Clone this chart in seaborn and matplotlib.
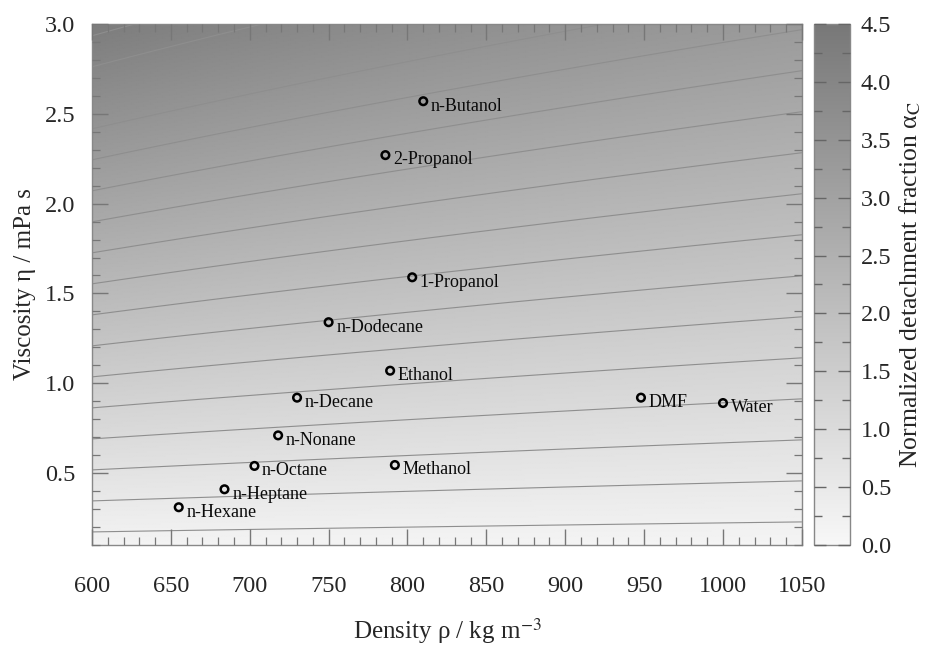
import matplotlib
matplotlib.use("Agg")
import matplotlib.pyplot as plt
import numpy as np
import pandas as pd
import seaborn as sns
from matplotlib.colors import LinearSegmentedColormap
from matplotlib.ticker import MultipleLocator

# solvents: density (kg m-3) and viscosity (mPa s)
solvents = ["n-Butanol", "2-Propanol", "1-Propanol", "n-Dodecane", "Ethanol",
            "n-Decane", "n-Nonane", "n-Octane", "n-Heptane", "n-Hexane",
            "Methanol", "DMF", "Water"]
density = [810, 786, 803, 750, 789, 730, 718, 703, 684, 655, 792, 948, 1000]
viscosity = [2.57, 2.27, 1.59, 1.34, 1.07, 0.92, 0.71, 0.54, 0.41, 0.31, 0.545, 0.92, 0.89]

# reference (water) used to normalise the detachment fraction surface
rho_ref = 997.0
eta_ref = 0.89
levels = np.arange(0.25, 4.5, 0.25)

df = pd.DataFrame({"solvent": solvents, "density": density, "viscosity": viscosity})

sns.set_theme(style="ticks")
plt.rcParams["font.family"] = ["Liberation Serif", "DejaVu Serif"]
plt.rcParams["mathtext.fontset"] = "stix"

fig = plt.figure(figsize=(9.28, 6.48), dpi=100)
ax = fig.add_axes([0.0991, 0.159, 0.765, 0.804])
cax = fig.add_axes([0.877, 0.159, 0.0388, 0.804])

cmap = LinearSegmentedColormap.from_list("grays", ["#f7f7f7", "#787878"])

rho = np.linspace(600, 1050, 300)
eta = np.linspace(0.1, 3.0, 300)
R, E = np.meshgrid(rho, eta)
alpha = (E / eta_ref) * np.sqrt(rho_ref / R)

mesh = ax.pcolormesh(R, E, alpha, cmap=cmap, vmin=0, vmax=4.5, shading="gouraud")
ax.contour(R, E, alpha, levels=levels, colors="#8e8e8e", linewidths=0.8)

sns.scatterplot(data=df, x="density", y="viscosity", ax=ax, s=30,
                facecolor="none", edgecolor="black", linewidth=1.8, zorder=5)
for _, r in df.iterrows():
    ax.annotate(r["solvent"], (r["density"], r["viscosity"]),
                xytext=(5.5, -3.5), textcoords="offset points",
                fontsize=13, va="center", ha="left", color="#0a0a0a", zorder=6)

ax.set_xlim(600, 1050)
ax.set_ylim(0.1, 3.0)
ax.set_axisbelow(False)
ax.xaxis.set_major_locator(MultipleLocator(50))
ax.xaxis.set_minor_locator(MultipleLocator(10))
ax.yaxis.set_major_locator(MultipleLocator(0.5))
ax.yaxis.set_minor_locator(MultipleLocator(0.1))
ax.set_yticks([0.5, 1.0, 1.5, 2.0, 2.5, 3.0])
ax.tick_params(which="both", direction="in", top=True, right=True, color="#777777")
ax.tick_params(which="major", length=11.5, width=1.0, labelsize=17.5)
ax.tick_params(which="minor", length=5.5, width=0.9)
ax.tick_params(axis="x", which="major", pad=22)
ax.tick_params(axis="y", which="major", pad=12)
for sp in ax.spines.values():
    sp.set_color("#888888")
    sp.set_linewidth(1.0)

ax.set_xlabel("Density ρ / kg m$^{-3}$", fontsize=18, labelpad=14)
ax.set_ylabel("Viscosity η / mPa s", fontsize=18, labelpad=6)

cb = fig.colorbar(mesh, cax=cax)
cax.set_axisbelow(False)
cb.outline.set_edgecolor("#888888")
cb.outline.set_linewidth(1.0)
cb.set_ticks(np.arange(0, 4.51, 0.5))
cb.ax.yaxis.set_minor_locator(MultipleLocator(0.25))
cb.ax.tick_params(which="both", direction="in", left=True, right=True, color="#666666")
cb.ax.tick_params(which="major", length=8.5, width=1.0, labelsize=17.5, pad=8)
cb.ax.tick_params(which="minor", length=5.5, width=1.0)
cb.set_label("Normalized detachment fraction α$_\\mathrm{C}$", fontsize=18.5, labelpad=4)

fig.savefig("out.png", dpi=100)
